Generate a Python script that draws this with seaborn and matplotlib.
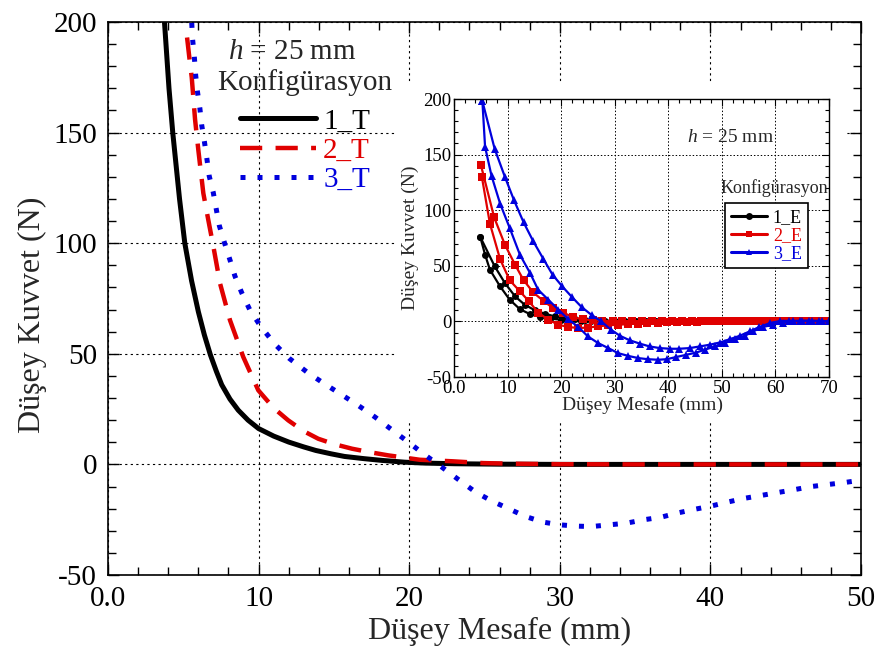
import matplotlib
matplotlib.use("Agg")
import matplotlib.pyplot as plt
import seaborn as sns
from matplotlib.lines import Line2D
from matplotlib.patches import Rectangle
from matplotlib.ticker import MultipleLocator, FixedLocator

# ---------------- data: main chart (theoretical) ----------------
x_1T = [3.75, 4.05, 4.3, 4.75, 5.1, 5.55, 6.0, 6.4, 6.8, 7.2, 7.55, 8.1, 8.65, 9.3, 10.0,
        11.0, 12.0, 13.0, 13.8, 14.8, 15.7, 17.0, 18.2, 19.7, 21.0, 23.0, 26.0, 30.0,
        35.0, 40.0, 45.0, 50.0]
y_1T = [200, 170, 150, 120, 100, 83, 69, 58.5, 49.5, 42, 36, 29.5, 24.5, 20, 16.2,
        12.8, 10.1, 7.9, 6.3, 4.8, 3.6, 2.6, 1.8, 1.0, 0.6, 0.3, 0.1, 0.0,
        0.0, 0.0, 0.0, 0.0]

x_2T = [5.25, 5.4, 5.56, 5.78, 6.0, 6.33, 6.66, 7.0, 7.44, 8.1, 8.98, 9.98, 11.0, 11.97,
        13.0, 13.96, 15.0, 16.2, 17.4, 18.6, 20.7, 22.9, 24.9, 27.0, 30.0, 35.0, 40.0,
        45.0, 50.0]
y_2T = [193, 184, 175, 156, 142, 122.6, 110.5, 98.4, 81.8, 65.2, 48.6, 33.5, 25.5, 19.9,
        15.0, 11.6, 9.2, 7.1, 5.5, 4.1, 2.1, 1.4, 0.6, 0.3, 0.1, 0.0, 0.0,
        0.0, 0.0]

x_3T = [5.56, 5.62, 5.73, 5.82, 5.93, 6.1, 6.22, 6.4, 6.55, 6.72, 6.99, 7.2, 7.39, 7.72,
        8.1, 8.43, 8.88, 9.43, 10.16, 11.1, 12.04, 13.26, 14.36, 15.4, 16.5, 17.73,
        18.84, 19.94, 20.94, 22.16, 23.26, 24.4, 25.5, 26.6, 27.7, 28.9, 29.97, 31.1,
        32.1, 33.3, 34.4, 35.6, 36.7, 37.8, 38.8, 40.0, 41.1, 42.2, 43.4, 44.4, 45.5,
        46.7, 47.8, 48.9, 49.9]
y_3T = [199.6, 192, 184.5, 176, 169, 161, 153.5, 146, 139, 130.4, 122.9, 115, 108, 100.5,
        92.4, 85.1, 77.6, 69.7, 62.2, 54.2, 47.9, 41.5, 36.5, 32, 27.2, 21.4,
        15.7, 10.1, 4.8, -1.2, -6.8, -12.5, -16.6, -20, -23.5, -26.1, -27.3, -27.9,
        -28.1, -27.3, -26.6, -25, -23.9, -22, -20.5, -18.9, -17.1, -15.4, -14, -12.8, -11.5,
        -10, -9.1, -8.2, -7.2]

main_labels = ["1_T", "2_T", "3_T"]

# ---------------- data: inset (experimental, two branches each) ----------------
x_1E_a = [4.9, 5.8, 6.7, 8.6, 10.4, 12.3, 14.2, 16.1, 18.0, 19.9, 21.8, 23.7, 25.6, 27.5,
          29.4, 31.3, 33.2, 35.1, 37.0, 38.9, 40.8, 42.7, 44.6, 46.5, 48.4, 50.3, 52.2,
          54.1, 56.0, 57.9, 59.8, 61.7, 63.6, 65.5, 67.4, 69.3]
y_1E_a = [76, 60, 46.5, 31.5, 19.5, 11, 6.5, 4, 2.5, 1.5, 1, 0.5, 0.3, 0.2,
          0.1, 0, 0, 0, 0, 0, 0, 0, 0, 0, 0, 0, 0,
          0, 0, 0, 0, 0, 0, 0, 0, 0]
x_1E_b = [4.9, 7.6, 9.5, 11.4, 13.2, 15.1, 16.9, 18.8, 20.6, 22.5, 24.4, 26.3, 28.2,
          30.1, 32.0, 33.9, 35.8, 37.7, 39.6, 41.5, 43.4, 45.3, 47.2, 49.1, 51.0, 52.9,
          54.8, 56.7, 58.6, 60.5, 62.4, 64.3, 66.2, 68.1, 70.0]
y_1E_b = [76, 49.5, 34.5, 22.5, 15, 10, 7, 4.5, 3, 2, 1.5, 1, 0.5,
          0.3, 0.1, 0, 0, 0, 0, 0, 0, 0, 0, 0, 0, 0,
          0, 0, 0, 0, 0, 0, 0, 0, 0]

x_2E_a = [5.0, 7.5, 9.5, 11.4, 13.0, 14.8, 16.8, 18.5, 20.4, 22.2, 24.0, 25.9, 27.7, 29.6,
          31.4, 33.3, 35.1, 37.0, 38.8, 40.7, 42.5, 44.4, 46.2, 48.1, 49.9, 51.8, 53.6,
          55.5, 57.3, 59.2, 61.0, 62.9, 64.7, 66.6, 68.4, 70.0]
y_2E_a = [141, 93.5, 69, 51, 37, 26, 18, 12, 8, 3.6, 2, 1, 0.5, 0.3,
          0.2, 0.1, 0, 0, 0, 0, 0, 0, 0, 0, 0, 0, 0,
          0, 0, 0, 0, 0, 0, 0, 0, 0]
x_2E_b = [5.2, 6.7, 8.6, 10.4, 12.3, 14.0, 15.7, 17.6, 19.5, 21.3, 23.2, 25.0, 26.9, 28.7,
          30.6, 32.4, 34.3, 36.1, 38.0, 39.8, 41.7, 43.5, 45.4, 47.2, 49.1, 50.9, 52.8,
          54.6, 56.5, 58.3, 60.2, 62.0, 63.9, 65.7, 67.6, 69.4]
y_2E_b = [130, 88, 56, 37, 27, 18, 8, 1.5, -3, -5, -6, -5.5, -4.5, -3.5,
          -3, -2.5, -2, -1.5, -1, -0.8, -0.5, -0.3, -0.2, 0, 0, 0, 0,
          0, 0, 0, 0, 0, 0, 0, 0, 0]

x_3E_a = [5.3, 7.6, 9.5, 11.2, 13.0, 14.8, 16.7, 18.4, 20.2, 22.0, 23.8, 25.7, 27.5, 29.3,
          31.0, 32.8, 34.7, 36.5, 38.4, 40.3, 42.0, 44.0, 45.9, 47.7, 49.6, 51.5, 53.3,
          55.2, 57.0, 59.0, 60.8, 62.6, 64.5, 66.3, 68.2, 70.0]
y_3E_a = [198, 155, 130, 109, 89, 72, 56, 42, 31.5, 22, 13, 5.7, 0, -7.5,
          -13, -17, -20, -22.5, -24, -24.6, -24.6, -24, -22.5, -21, -19, -16, -13,
          -9, -5, -1.5, 0.3, 0.5, 0.5, 0.5, 0.3, 0]
x_3E_b = [5.3, 5.8, 7.0, 8.6, 10.4, 12.3, 14.2, 15.7, 17.6, 19.5, 21.3, 23.2, 25.0, 26.9,
          28.8, 30.6, 32.5, 34.4, 36.2, 38.1, 39.7, 41.5, 43.4, 45.2, 46.8, 48.7, 50.5,
          52.4, 54.3, 55.8, 57.7, 59.5, 61.4, 63.2, 65.0, 66.9, 68.7, 70.0]
y_3E_b = [198, 157, 131, 106, 84, 60, 43.5, 28.5, 19.5, 10.5, 2, -5, -13.5, -19.5,
          -24, -28.5, -31, -33, -34, -34.5, -34, -32, -30, -28, -25.5, -22.5, -19.5,
          -16, -13, -9, -5, -3, -1, 0, 0.5, 0.5, 0.3, 0]

inset_labels = ["1_E", "2_E", "3_E"]

x_ticks_main = [0, 10, 20, 30, 40, 50]
x_ticklabels_main = ["0.0", "10", "20", "30", "40", "50"]
x_ticks_inset = [0, 10, 20, 30, 40, 50, 60, 70]
x_ticklabels_inset = ["0.0", "10", "20", "30", "40", "50", "60", "70"]
y_ticks = [-50, 0, 50, 100, 150, 200]
y_ticklabels = ["-50", "0", "50", "100", "150", "200"]

# ---------------- style ----------------
sns.set_theme(style="white")
plt.rcParams['font.family'] = ['Liberation Serif', 'DejaVu Serif']
plt.rcParams['mathtext.fontset'] = 'custom'
plt.rcParams['mathtext.rm'] = 'Liberation Serif'
plt.rcParams['mathtext.it'] = 'Liberation Serif:italic'

BLACK = "#000000"
RED = "#e00000"
BLUE = "#0000dd"

W, H = 878, 650
fig = plt.figure(figsize=(8.78, 6.5), dpi=100)
fig.patch.set_facecolor("white")

def fx(px):
    return px / W

def fy(py):
    return 1 - py / H

# main axes
ax = fig.add_axes([fx(108), fy(575), fx(861) - fx(108), fy(22) - fy(575)])
ax.set_facecolor("white")

sns.lineplot(x=x_1T, y=y_1T, ax=ax, color=BLACK, lw=3.6, sort=False, estimator=None,
             legend=False, zorder=3)
sns.lineplot(x=x_2T, y=y_2T, ax=ax, color=RED, lw=3.2, linestyle=(0, (5, 3)),
             sort=False, estimator=None, legend=False, zorder=3)
sns.lineplot(x=x_3T, y=y_3T, ax=ax, color=BLUE, lw=3.6, linestyle=(0, (1, 2.4)),
             dash_capstyle="butt", sort=False, estimator=None, legend=False, zorder=3)

ax.set_xlim(0, 50)
ax.set_ylim(-50, 200)
ax.xaxis.set_major_locator(FixedLocator(x_ticks_main))
ax.set_xticklabels(x_ticklabels_main)
ax.yaxis.set_major_locator(FixedLocator(y_ticks))
ax.set_yticklabels(y_ticklabels)
ax.xaxis.set_minor_locator(MultipleLocator(2))
ax.yaxis.set_minor_locator(MultipleLocator(10))
ax.tick_params(which="both", direction="in", top=True, right=True, bottom=True, left=True,
               colors="black", width=1.0)
ax.tick_params(which="major", length=8, labelsize=21, pad=8)
ax.tick_params(which="minor", length=6)
ax.grid(True, which="major", color="black", linestyle=(0, (2, 3)), lw=0.8)
for s in ax.spines.values():
    s.set_color("black")
    s.set_linewidth(1.2)
ax.set_xlabel("Düşey Mesafe (mm)", fontsize=23)
ax.set_ylabel("Düşey Kuvvet (N)", fontsize=23)
ax.xaxis.set_label_coords((500 - 108) / 753, (575 - 617) / 553)
ax.yaxis.set_label_coords((47 - 108) / 753, (575 - 315) / 553)

# white area where the inset picture sits
ax.add_patch(Rectangle((0.384, 0.280), 0.595, 0.6115, transform=ax.transAxes,
                       facecolor="white", edgecolor="none", zorder=1.8))

# main legend
handles = [Line2D([], [], color=BLACK, lw=3.6),
           Line2D([], [], color=RED, lw=3.2, linestyle=(0, (5, 3))),
           Line2D([], [], color=BLUE, lw=3.6, linestyle=(0, (1, 2.4)), dash_capstyle="butt")]
leg = ax.legend(handles, main_labels, loc="upper left",
                bbox_to_anchor=(fx(240), fy(108)), bbox_transform=fig.transFigure,
                frameon=False, fontsize=21, handlelength=2.6, handletextpad=0.25,
                labelspacing=0.1, borderpad=0, borderaxespad=0,
                labelcolor=[BLACK, RED, BLUE])
fig.text(fx(292), fy(52), r"$h$ = 25 mm", ha="center", va="center", fontsize=21)
fig.text(fx(305), fy(83), "Konfigürasyon", ha="center", va="center", fontsize=21)

# inset axes
ax2 = fig.add_axes([fx(454), fy(377), fx(829) - fx(454), fy(99) - fy(377)])
ax2.set_facecolor("white")
kw = dict(sort=False, estimator=None, legend=False, lw=1.6, markeredgewidth=0)
sns.lineplot(x=x_1E_a, y=y_1E_a, ax=ax2, color=BLACK, marker="o", markersize=5.0, **kw)
sns.lineplot(x=x_1E_b, y=y_1E_b, ax=ax2, color=BLACK, marker="o", markersize=5.0, **kw)
sns.lineplot(x=x_2E_a, y=y_2E_a, ax=ax2, color=RED, marker="s", markersize=5.4, **kw)
sns.lineplot(x=x_2E_b, y=y_2E_b, ax=ax2, color=RED, marker="s", markersize=5.4, **kw)
sns.lineplot(x=x_3E_a, y=y_3E_a, ax=ax2, color=BLUE, marker="^", markersize=5.2, **kw)
sns.lineplot(x=x_3E_b, y=y_3E_b, ax=ax2, color=BLUE, marker="^", markersize=5.2, **kw)

ax2.set_xlim(0, 70)
ax2.set_ylim(-50, 200)
ax2.xaxis.set_major_locator(FixedLocator(x_ticks_inset))
ax2.set_xticklabels(x_ticklabels_inset)
ax2.yaxis.set_major_locator(FixedLocator(y_ticks))
ax2.set_yticklabels(y_ticklabels)
ax2.xaxis.set_minor_locator(MultipleLocator(2))
ax2.yaxis.set_minor_locator(MultipleLocator(10))
ax2.tick_params(which="both", direction="in", top=True, right=True, bottom=True, left=True,
                colors="black", width=0.8)
ax2.tick_params(which="major", length=5, labelsize=13.5, pad=2)
ax2.tick_params(which="minor", length=3)
ax2.grid(True, which="major", color="black", linestyle=(0, (1.5, 2)), lw=0.7)
for s in ax2.spines.values():
    s.set_color("black")
    s.set_linewidth(1.0)
ax2.set_xlabel("Düşey Mesafe (mm)", fontsize=14)
ax2.set_ylabel("Düşey Kuvvet (N)", fontsize=14)
ax2.xaxis.set_label_coords(0.503, (377 - 396) / 278)
ax2.yaxis.set_label_coords((419 - 454) / 375, 0.5)

ih = [Line2D([], [], color=BLACK, lw=2.2, marker="o", markersize=5, markeredgewidth=0),
      Line2D([], [], color=RED, lw=2.2, marker="s", markersize=5, markeredgewidth=0),
      Line2D([], [], color=BLUE, lw=2.2, marker="^", markersize=5, markeredgewidth=0)]
leg2 = ax2.legend(ih, inset_labels, loc="upper left",
                  bbox_to_anchor=(fx(725), fy(203)), bbox_transform=fig.transFigure,
                  frameon=True, fancybox=False, edgecolor="black", framealpha=1,
                  fontsize=13, handlelength=2.0, handletextpad=0.3, labelspacing=0.05,
                  borderpad=0.35, borderaxespad=0, labelcolor=[BLACK, RED, BLUE])
leg2.get_frame().set_linewidth(1.2)
fig.text(fx(730), fy(138), r"$h$ = 25 mm", ha="center", va="center", fontsize=14)
fig.text(fx(774), fy(188), "Konfigürasyon", ha="center", va="center", fontsize=13)

fig.savefig("out.png", dpi=100, facecolor="white")
